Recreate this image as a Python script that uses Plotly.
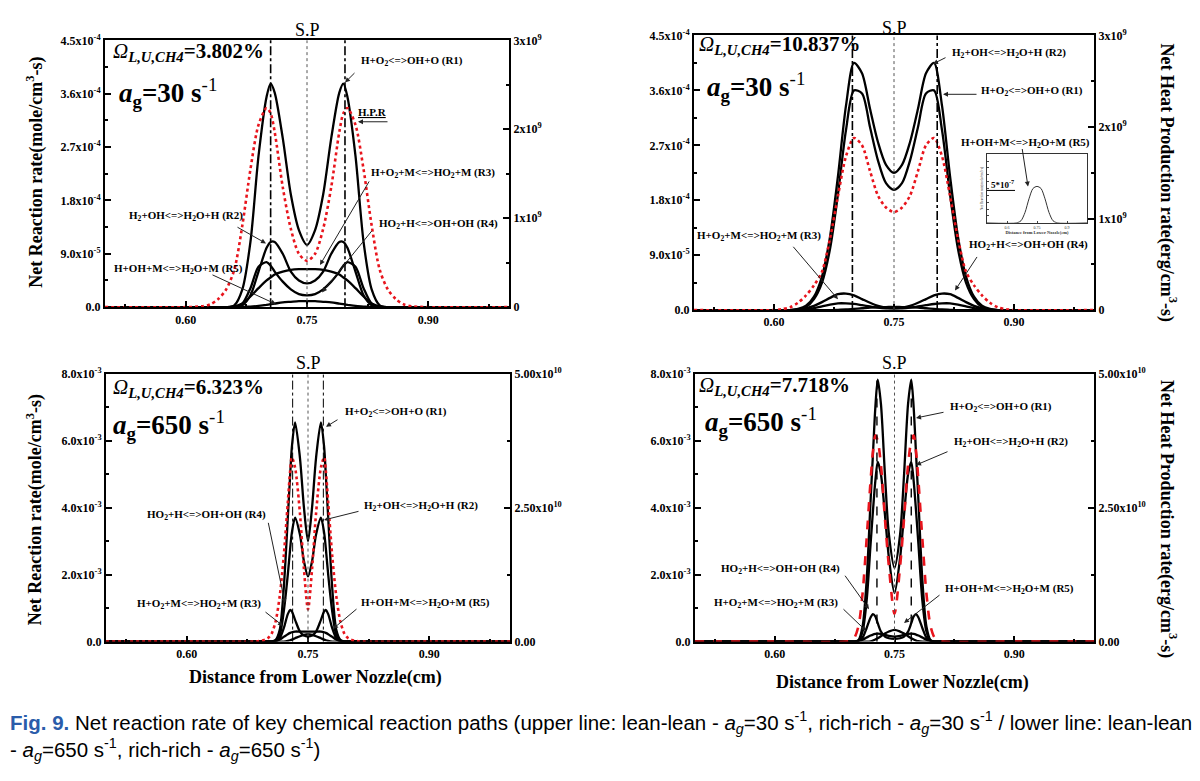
import plotly.graph_objects as go

W, H = 1200, 781
SERIF = "Liberation Serif, Times New Roman, serif"
SANS_N = "Liberation Sans Narrow, Arial Narrow, Liberation Sans, Arial, sans-serif"

# ---------------- data ----------------
REACTIONS = ["H+O2<=>OH+O (R1)", "H2+OH<=>H2O+H (R2)", "H+O2+M<=>HO2+M (R3)",
             "HO2+H<=>OH+OH (R4)", "H+OH+M<=>H2O+M (R5)"]

# Panel 1: lean-lean, a_g=30 1/s. Rates in 1e-4 mole/cm3-s, heat production in 1e9 erg/cm3-s
P1_X = [0.50, 0.60, 0.62, 0.63, 0.64, 0.65, 0.66, 0.67, 0.68, 0.69, 0.70, 0.705, 0.71, 0.72, 0.73, 0.74,
        0.75, 0.76, 0.77, 0.78, 0.79, 0.795, 0.80, 0.81, 0.82, 0.83, 0.84, 0.85, 0.86, 0.87, 0.88, 0.90, 1.00]
P1_R1 = [0, 0, 0, 0, 0, 0, 0.03, 0.3, 1.1, 2.55, 3.55, 3.77, 3.62, 2.85, 1.9, 1.3, 1.05, 1.3, 1.9, 2.85,
         3.62, 3.77, 3.55, 2.55, 1.1, 0.3, 0.03, 0, 0, 0, 0, 0, 0]
P1_R2 = [0, 0, 0, 0, 0, 0, 0, 0.03, 0.2, 0.6, 1.0, 1.1, 1.1, 0.9, 0.6, 0.45, 0.4, 0.45, 0.6, 0.9, 1.1,
         1.1, 1.0, 0.6, 0.2, 0.03, 0, 0, 0, 0, 0, 0, 0]
P1_R3 = [0, 0, 0, 0, 0, 0, 0.01, 0.06, 0.18, 0.32, 0.45, 0.5, 0.55, 0.6, 0.63, 0.64, 0.64, 0.64, 0.63,
         0.6, 0.55, 0.5, 0.45, 0.32, 0.18, 0.06, 0.01, 0, 0, 0, 0, 0, 0]
P1_R4 = [0, 0, 0, 0, 0, 0, 0, 0.06, 0.32, 0.68, 0.76, 0.7, 0.6, 0.43, 0.3, 0.22, 0.2, 0.22, 0.3, 0.43,
         0.6, 0.7, 0.76, 0.68, 0.32, 0.06, 0, 0, 0, 0, 0, 0, 0]
P1_R5 = [0, 0, 0, 0, 0, 0, 0, 0, 0.01, 0.02, 0.04, 0.05, 0.06, 0.08, 0.09, 0.1, 0.1, 0.1, 0.09, 0.08,
         0.06, 0.05, 0.04, 0.02, 0.01, 0, 0, 0, 0, 0, 0, 0, 0]
P1_HPR = [0, 0, 0.01, 0.03, 0.09, 0.2, 0.42, 0.92, 1.55, 2.05, 2.24, 2.18, 1.97, 1.35, 0.88, 0.6, 0.52,
          0.6, 0.88, 1.35, 1.97, 2.18, 2.24, 2.05, 1.55, 0.92, 0.42, 0.2, 0.09, 0.03, 0.01, 0, 0]

# Panel 2: rich-rich, a_g=30 1/s
P2_X = [0.50, 0.60, 0.61, 0.62, 0.63, 0.64, 0.65, 0.66, 0.67, 0.68, 0.69, 0.70, 0.71, 0.72, 0.73, 0.74,
        0.75, 0.76, 0.77, 0.78, 0.79, 0.80, 0.81, 0.82, 0.83, 0.84, 0.85, 0.86, 0.87, 0.88, 0.89, 0.90, 1.00]
P2_R1 = [0, 0, 0, 0, 0.01, 0.05, 0.18, 0.45, 1.0, 1.9, 2.95, 3.6, 3.55, 3.0, 2.45, 2.08, 1.97, 2.08,
         2.45, 3.0, 3.55, 3.6, 2.95, 1.9, 1.0, 0.45, 0.18, 0.05, 0.01, 0, 0, 0, 0]
P2_R2 = [0, 0, 0, 0, 0.02, 0.07, 0.22, 0.55, 1.2, 2.2, 3.35, 4.05, 3.88, 3.3, 2.75, 2.38, 2.25, 2.38,
         2.75, 3.3, 3.88, 4.05, 3.35, 2.2, 1.2, 0.55, 0.22, 0.07, 0.02, 0, 0, 0, 0]
P2_R3 = [0, 0, 0, 0, 0.01, 0.03, 0.07, 0.13, 0.2, 0.26, 0.27, 0.24, 0.18, 0.12, 0.07, 0.04, 0.03, 0.04,
         0.07, 0.12, 0.18, 0.24, 0.27, 0.26, 0.2, 0.13, 0.07, 0.03, 0.01, 0, 0, 0, 0]
P2_R4 = [0, 0, 0, 0, 0, 0.01, 0.03, 0.06, 0.09, 0.11, 0.11, 0.1, 0.08, 0.06, 0.04, 0.03, 0.03, 0.03,
         0.04, 0.06, 0.08, 0.1, 0.11, 0.11, 0.09, 0.06, 0.03, 0.01, 0, 0, 0, 0, 0]
P2_R5 = [0, 0, 0, 0, 0, 0, 0, 0, 0, 0.005, 0.01, 0.02, 0.03, 0.04, 0.045, 0.05, 0.05, 0.05, 0.045, 0.04,
         0.03, 0.02, 0.01, 0.005, 0, 0, 0, 0, 0, 0, 0, 0, 0]
P2_HPR = [0, 0, 0.01, 0.03, 0.08, 0.16, 0.27, 0.42, 0.78, 1.25, 1.68, 1.88, 1.8, 1.52, 1.25, 1.12, 1.07,
          1.12, 1.25, 1.52, 1.8, 1.88, 1.68, 1.25, 0.78, 0.42, 0.27, 0.16, 0.08, 0.03, 0.01, 0, 0]
# inset of panel 2 (R5 alone, units 1e-6)
INSET_X = [0.50, 0.65, 0.67, 0.69, 0.71, 0.73, 0.75, 0.77, 0.79, 0.81, 0.83, 0.85, 1.00]
INSET_R5 = [0, 0, 0.03, 0.15, 0.35, 0.5, 0.53, 0.5, 0.35, 0.15, 0.03, 0, 0]

# Panel 3: lean-lean, a_g=650 1/s. Rates in 1e-3 mole/cm3-s, heat production in 1e10 erg/cm3-s
P3_X = [0.50, 0.60, 0.69, 0.70, 0.705, 0.71, 0.715, 0.72, 0.725, 0.728, 0.73, 0.734, 0.74, 0.745, 0.75,
        0.755, 0.76, 0.766, 0.77, 0.772, 0.775, 0.78, 0.785, 0.79, 0.795, 0.80, 0.81, 0.90, 1.00]
P3_R1 = [0, 0, 0, 0, 0, 0.05, 0.35, 1.6, 3.7, 5.0, 5.8, 6.55, 5.5, 4.0, 3.0, 4.0, 5.5, 6.55, 5.8, 5.0,
         3.7, 1.6, 0.35, 0.05, 0, 0, 0, 0, 0]
P3_R2 = [0, 0, 0, 0, 0, 0.02, 0.2, 0.9, 2.0, 2.8, 3.25, 3.7, 3.2, 2.4, 1.95, 2.4, 3.2, 3.7, 3.25, 2.8,
         2.0, 0.9, 0.2, 0.02, 0, 0, 0, 0, 0]
P3_R3 = [0, 0, 0, 0, 0, 0.02, 0.06, 0.14, 0.22, 0.26, 0.28, 0.3, 0.3, 0.3, 0.3, 0.3, 0.3, 0.3, 0.28,
         0.26, 0.22, 0.14, 0.06, 0.02, 0, 0, 0, 0, 0]
P3_R4 = [0, 0, 0, 0, 0, 0, 0.1, 0.4, 0.82, 0.95, 0.9, 0.65, 0.3, 0.18, 0.15, 0.18, 0.3, 0.65, 0.9, 0.95,
         0.82, 0.4, 0.1, 0, 0, 0, 0, 0, 0]
P3_R5 = [0, 0, 0, 0, 0, 0, 0, 0, 0.02, 0.04, 0.06, 0.1, 0.16, 0.2, 0.22, 0.2, 0.16, 0.1, 0.06, 0.04,
         0.02, 0, 0, 0, 0, 0, 0, 0, 0]
P3_HPR = [0, 0, 0.01, 0.06, 0.15, 0.38, 0.85, 1.6, 2.6, 3.2, 3.44, 3.25, 2.4, 1.35, 0.6, 1.35, 2.4,
          3.25, 3.44, 3.2, 2.6, 1.6, 0.85, 0.38, 0.15, 0.06, 0.01, 0, 0]

# Panel 4: rich-rich, a_g=650 1/s
P4_X = [0.50, 0.60, 0.69, 0.695, 0.70, 0.705, 0.71, 0.715, 0.72, 0.723, 0.726, 0.729, 0.733, 0.738,
        0.743, 0.75, 0.757, 0.762, 0.767, 0.771, 0.774, 0.777, 0.78, 0.785, 0.79, 0.795, 0.80, 0.805,
        0.81, 0.90, 1.00]
P4_R1 = [0, 0, 0, 0, 0, 0.05, 0.45, 1.8, 4.2, 5.6, 7.0, 7.83, 7.1, 5.0, 3.2, 2.2, 3.2, 5.0, 7.1, 7.83,
         7.0, 5.6, 4.2, 1.8, 0.45, 0.05, 0, 0, 0, 0, 0]
P4_R2 = [0, 0, 0, 0, 0, 0.02, 0.3, 1.2, 2.9, 3.9, 4.8, 5.37, 5.0, 3.8, 2.5, 1.45, 2.5, 3.8, 5.0, 5.37,
         4.8, 3.9, 2.9, 1.2, 0.3, 0.02, 0, 0, 0, 0, 0]
P4_R3 = [0, 0, 0, 0, 0, 0.02, 0.06, 0.12, 0.18, 0.21, 0.23, 0.24, 0.23, 0.2, 0.17, 0.15, 0.17, 0.2,
         0.23, 0.24, 0.23, 0.21, 0.18, 0.12, 0.06, 0.02, 0, 0, 0, 0, 0]
P4_R4 = [0, 0, 0, 0, 0, 0.03, 0.12, 0.4, 0.72, 0.82, 0.75, 0.55, 0.3, 0.15, 0.1, 0.08, 0.1, 0.15, 0.3,
         0.55, 0.75, 0.82, 0.72, 0.4, 0.12, 0.03, 0, 0, 0, 0, 0]
P4_R5 = [0, 0, 0, 0, 0, 0, 0, 0, 0.01, 0.03, 0.06, 0.1, 0.16, 0.24, 0.3, 0.35, 0.3, 0.24, 0.16, 0.1,
         0.06, 0.03, 0.01, 0, 0, 0, 0, 0, 0, 0, 0]
P4_HPR = [0, 0, 0, 0.02, 0.08, 0.3, 0.9, 1.9, 3.0, 3.55, 3.85, 3.75, 3.3, 2.3, 1.4, 0.52, 1.4, 2.3, 3.3,
          3.75, 3.85, 3.55, 3.0, 1.9, 0.9, 0.3, 0.08, 0.02, 0, 0, 0]

# Reference lines (flame positions) and stagnation plane
P1_FLAME_X = [0.705, 0.797]
P2_FLAME_X = [0.698, 0.804]
P3_FLAME_X = [0.731, 0.769]
P4_FLAME_X = [0.728, 0.771]
SP_X = 0.75

# Ticks
X_TICKS = [0.60, 0.75, 0.90]
X_TICKTEXT = ["0.60", "0.75", "0.90"]
Y_TOP_TICKS = [0, 0.9, 1.8, 2.7, 3.6, 4.5]
Y_TOP_TEXT = ["0.0", "9.0x10<sup>-5</sup>", "1.8x10<sup>-4</sup>", "2.7x10<sup>-4</sup>",
              "3.6x10<sup>-4</sup>", "4.5x10<sup>-4</sup>"]
Y2_TOP_TICKS = [0, 1, 2, 3]
Y2_TOP_TEXT = ["0", "1x10<sup>9</sup>", "2x10<sup>9</sup>", "3x10<sup>9</sup>"]
Y_BOT_TICKS = [0, 2, 4, 6, 8]
Y_BOT_TEXT = ["0.0", "2.0x10<sup>-3</sup>", "4.0x10<sup>-3</sup>", "6.0x10<sup>-3</sup>", "8.0x10<sup>-3</sup>"]
Y2_BOT_TICKS = [0, 2.5, 5]
Y2_BOT_TEXT = ["0.00", "2.50x10<sup>10</sup>", "5.00x10<sup>10</sup>"]

PANEL_OMEGA = ["=3.802%", "=10.837%", "=6.323%", "=7.718%"]
PANEL_AG = ["=30 s", "=30 s", "=650 s", "=650 s"]

# ---------------- geometry (pixels) ----------------
def px(x):
    return x / W


def py(y):
    return 1 - y / H


PANELS = [
    dict(xd=[px(105), px(509)], yd=[py(305), py(33)]),
    dict(xd=[px(694), px(1094)], yd=[py(308), py(28)]),
    dict(xd=[px(106), px(510)], yd=[py(646), py(373)]),
    dict(xd=[px(695), px(1094)], yd=[py(646), py(373)]),
]

fig = go.Figure()

tickfont = dict(family=SERIF, size=12, color="black")


def bold(lst):
    return ["<b>%s</b>" % t for t in lst]


layout = dict(width=W, height=H, margin=dict(l=0, r=0, t=0, b=0), autosize=False,
              paper_bgcolor="white", plot_bgcolor="white", showlegend=False)

yr = [(4.5, 3.0, Y_TOP_TICKS, Y_TOP_TEXT, Y2_TOP_TICKS, Y2_TOP_TEXT, 0.45, 0.5),
      (4.5, 3.0, Y_TOP_TICKS, Y_TOP_TEXT, Y2_TOP_TICKS, Y2_TOP_TEXT, 0.45, 0.5),
      (8.0, 5.0, Y_BOT_TICKS, Y_BOT_TEXT, Y2_BOT_TICKS, Y2_BOT_TEXT, 1.0, 1.25),
      (8.0, 5.0, Y_BOT_TICKS, Y_BOT_TEXT, Y2_BOT_TICKS, Y2_BOT_TEXT, 1.0, 1.25)]

for i, p in enumerate(PANELS):
    xn = "xaxis" if i == 0 else "xaxis%d" % (i + 1)
    xid = "x" if i == 0 else "x%d" % (i + 1)
    ly = 2 * i + 1
    ry = 2 * i + 2
    lyn = "yaxis" if ly == 1 else "yaxis%d" % ly
    lyid = "y" if ly == 1 else "y%d" % ly
    ryn = "yaxis%d" % ry
    ytop, y2top, yt, ytt, y2t, y2tt, ymin, y2min = yr[i]
    layout[xn] = dict(domain=p["xd"], anchor=lyid, range=[0.5, 1.0], showline=True, linewidth=2,
                      linecolor="black", mirror=True, ticks="inside", ticklen=6, tickwidth=1.5,
                      tickcolor="black", tickvals=X_TICKS, ticktext=bold(X_TICKTEXT), tickfont=tickfont,
                      minor=dict(ticks="inside", ticklen=3, dtick=0.075, tickcolor="black"),
                      showgrid=False, zeroline=False)
    layout[lyn] = dict(domain=p["yd"], anchor=xid, range=[0, ytop], showline=True, linewidth=2,
                       linecolor="black", mirror=True, ticks="inside", ticklen=6, tickwidth=1.5,
                       tickcolor="black", tickvals=yt, ticktext=bold(ytt), tickfont=tickfont,
                       minor=dict(ticks="inside", ticklen=3, dtick=ymin, tickcolor="black"),
                       showgrid=False, zeroline=False)
    layout[ryn] = dict(overlaying=lyid, side="right", anchor=xid, range=[0, y2top], showline=True,
                       linewidth=2, linecolor="black", ticks="inside", ticklen=6, tickwidth=1.5,
                       tickcolor="black", tickvals=y2t, ticktext=bold(y2tt), tickfont=tickfont,
                       minor=dict(ticks="inside", ticklen=3, dtick=y2min, tickcolor="black"),
                       showgrid=False, zeroline=False)

# inset axes (panel 2)
layout["xaxis5"] = dict(domain=[px(987), px(1087)], anchor="y9", range=[0.5, 1.0], showline=True,
                        linewidth=1, linecolor="#333", mirror=True, ticks="inside", ticklen=2,
                        tickvals=X_TICKS, ticktext=["0.6", "0.75", "0.9"],
                        tickfont=dict(family=SERIF, size=4, color="#333"), showgrid=False, zeroline=False,
                        title=dict(text="<b>Distance from Lower Nozzle(cm)</b>",
                                   font=dict(family=SERIF, size=4.5, color="#333"), standoff=1))
layout["yaxis9"] = dict(domain=[py(219), py(149)], anchor="x5", range=[0, 1.0], showline=True,
                        linewidth=1, linecolor="#333", mirror=True, ticks="inside", ticklen=2,
                        dtick=0.1, showticklabels=False, showgrid=False, zeroline=False,
                        title=dict(text="Net Reaction rate(mole/cm3-s)",
                                   font=dict(family=SERIF, size=3.5, color="#333"), standoff=2))

fig.update_layout(**layout)

# ---------------- traces ----------------
panel_data = [
    (P1_X, [P1_R1, P1_R2, P1_R3, P1_R4, P1_R5], P1_HPR, "x", "y", "y2", "dot"),
    (P2_X, [P2_R1, P2_R2, P2_R3, P2_R4, P2_R5], P2_HPR, "x2", "y3", "y4", "dot"),
    (P3_X, [P3_R1, P3_R2, P3_R3, P3_R4, P3_R5], P3_HPR, "x3", "y5", "y6", "dot"),
    (P4_X, [P4_R1, P4_R2, P4_R3, P4_R4, P4_R5], P4_HPR, "x4", "y7", "y8", "dash"),
]
for xs, series, hpr, xa, ya, ya2, rdash in panel_data:
    for name, ys in zip(REACTIONS, series):
        fig.add_trace(go.Scatter(x=xs, y=ys, xaxis=xa, yaxis=ya, mode="lines", name=name,
                                 line=dict(color="black", width=2.3, shape="spline", smoothing=0.8)))
    fig.add_trace(go.Scatter(x=xs, y=hpr, xaxis=xa, yaxis=ya2, mode="lines", name="H.P.R",
                             line=dict(color="#e8141c", width=2.6, dash=rdash, shape="spline",
                                       smoothing=0.8)))

fig.add_trace(go.Scatter(x=INSET_X, y=INSET_R5, xaxis="x5", yaxis="y9", mode="lines", name="R5 inset",
                         line=dict(color="#333", width=1, shape="spline", smoothing=0.8)))

# ---------------- reference lines ----------------
shapes = []
flames = [(P1_FLAME_X, "x", "y", "dashdot", 1.6), (P2_FLAME_X, "x2", "y3", "dashdot", 1.6),
          (P3_FLAME_X, "x3", "y5", "dashdot", 1.0), (P4_FLAME_X, "x4", "y7", "dash", 1.4)]
for fx, xa, ya, dsh, wd in flames:
    for v in fx:
        shapes.append(dict(type="line", xref=xa, yref=ya + " domain", x0=v, x1=v, y0=0, y1=1,
                           line=dict(color="black", width=wd, dash=dsh), layer="above"))
    shapes.append(dict(type="line", xref=xa, yref=ya + " domain", x0=SP_X, x1=SP_X, y0=0, y1=1,
                       line=dict(color="#555", width=1, dash="dot"), layer="above"))
# underline of inset label
shapes.append(dict(type="line", xref="paper", yref="paper", x0=px(987), x1=px(1015), y0=py(186),
                   y1=py(186), line=dict(color="black", width=1)))
fig.update_layout(shapes=shapes)

# ---------------- annotations ----------------
ann = []
LBL = dict(family=SERIF, size=11, color="black")


def label(text, c, tail, tip):
    ann.append(dict(text="<b>%s</b>" % text, x=px(c[0]), y=py(c[1]), xref="paper", yref="paper",
                    showarrow=False, font=LBL, xanchor="center", yanchor="middle"))
    ann.append(dict(text="", x=px(tip[0]), y=py(tip[1]), xref="paper", yref="paper", showarrow=True,
                    ax=tail[0] - tip[0], ay=tail[1] - tip[1], arrowhead=2, arrowsize=1,
                    arrowwidth=1, arrowcolor="#222", standoff=0, startstandoff=0))


R1T = "H+O<sub>2</sub>&lt;=&gt;OH+O (R1)"
R2T = "H<sub>2</sub>+OH&lt;=&gt;H<sub>2</sub>O+H (R2)"
R3T = "H+O<sub>2</sub>+M&lt;=&gt;HO<sub>2</sub>+M (R3)"
R4T = "HO<sub>2</sub>+H&lt;=&gt;OH+OH (R4)"
R5T = "H+OH+M&lt;=&gt;H<sub>2</sub>O+M (R5)"

# panel 1
label(R1T, (412, 54), (356, 65), (345, 76))
label("<u>H.P.R</u>", (372, 106), (389, 116), (358, 116))
label(R3T, (433, 168), (370, 177), (320, 262))
label(R4T, (438, 220), (373, 227), (322, 290))
label(R2T, (186, 212), (236, 223), (266, 240))
label(R5T, (178, 266), (211, 272), (276, 302))
# panel 2
label(R2T, (1009, 46), (947, 50), (933, 57))
label(R1T, (1032, 85), (978, 88), (943, 88))
label(R5T, (1025, 138), (1022, 143), (1028, 182))
label(R3T, (759, 232), (792, 243), (838, 297))
label(R4T, (1028, 242), (978, 253), (955, 288))
# panel 3
label(R1T, (396, 412), (339, 419), (326, 427))
label(R2T, (421, 508), (360, 513), (324, 522))
label(R4T, (207, 517), (268, 525), (285, 607))
label(R3T, (199, 608), (264, 615), (283, 630))
label(R5T, (425, 607), (358, 612), (333, 633))
# panel 4
label(R1T, (1001, 407), (945, 412), (916, 418))
label(R2T, (1011, 443), (949, 452), (916, 466))
label(R4T, (780, 572), (844, 578), (869, 613))
label(R3T, (776, 607), (842, 612), (866, 635))
label(R5T, (1009, 592), (941, 598), (904, 627))

# inset label
ann.append(dict(text="<b>5*10<sup>-7</sup></b>", x=px(1002), y=py(179), xref="paper", yref="paper",
                xanchor="center", yanchor="middle",
                showarrow=False, font=dict(family=SERIF, size=9, color="black")))

# omega and a_g labels
omega_pos = [(111, 45), (697, 38), (111, 387), (697, 385)]
ag_pos = [(117, 87), (705, 81), (111, 425), (703, 422)]
for i in range(4):
    ann.append(dict(text="<i>Ω</i><sub><b><i>L,U,CH4</i></b></sub><b>%s</b>" % PANEL_OMEGA[i],
                    x=px(omega_pos[i][0]), y=py(omega_pos[i][1]), xref="paper", yref="paper",
                    xanchor="left", yanchor="middle", showarrow=False,
                    font=dict(family=SERIF, size=21, color="black")))
    ann.append(dict(text="<b><i>a</i></b><sub><b>g</b></sub><b>%s</b><sup>-1</sup>" % PANEL_AG[i],
                    x=px(ag_pos[i][0]), y=py(ag_pos[i][1]), xref="paper", yref="paper",
                    xanchor="left", yanchor="middle", showarrow=False,
                    font=dict(family=SERIF, size=27, color="black")))

# S.P labels
for xa, ypx in [("x", 22), ("x2", 20), ("x3", 362), ("x4", 362)]:
    ann.append(dict(text="S.P", x=SP_X, xref=xa, y=py(ypx), yref="paper", showarrow=False,
                    font=dict(family=SERIF, size=18, color="black"), xanchor="center", yanchor="middle"))

# axis titles
YT = "<b>Net Reaction rate(mole/cm<sup>3</sup>-s)</b>"
HT = "<b>Net Heat Production rate(erg/cm<sup>3</sup>-s)</b>"
XT = "<b>Distance from Lower Nozzle(cm)</b>"
TF = dict(family=SERIF, size=18, color="black")
for txt, cx, cy, ang in [(YT, 35, 168, -90), (YT, 35, 512, -90), (HT, 1168, 178, 90),
                         (HT, 1168, 521, 90), (XT, 316, 683, 0), (XT, 902, 688, 0)]:
    ann.append(dict(text=txt, x=px(cx), y=py(cy), xref="paper", yref="paper", textangle=ang,
                    xanchor="center", yanchor="middle", showarrow=False, font=TF))

# caption
AG = "<i>a</i><sub><i>g</i></sub>"
CAP1 = ("<span style='color:#2a5caa'><b>Fig. 9.</b></span> Net reaction rate of key chemical reaction "
        "paths (upper line: lean-lean - " + AG + "=30 s<sup>-1</sup>, rich-rich - " + AG +
        "=30 s<sup>-1</sup> / lower line: lean-lean")
CAP2 = "- " + AG + "=650 s<sup>-1</sup>, rich-rich - " + AG + "=650 s<sup>-1</sup>)"
CF = dict(family=SANS_N, size=20.5, color="black")
ann.append(dict(text=CAP1, x=px(8), y=py(729), xref="paper", yref="paper", xanchor="left",
                yanchor="middle", showarrow=False, font=CF))
ann.append(dict(text=CAP2, x=px(8), y=py(756), xref="paper", yref="paper", xanchor="left",
                yanchor="middle", showarrow=False, font=CF))

fig.update_layout(annotations=ann)

fig.write_html("out.html", config={"displayModeBar": False},
               post_script="document.body.style.margin='0';")
